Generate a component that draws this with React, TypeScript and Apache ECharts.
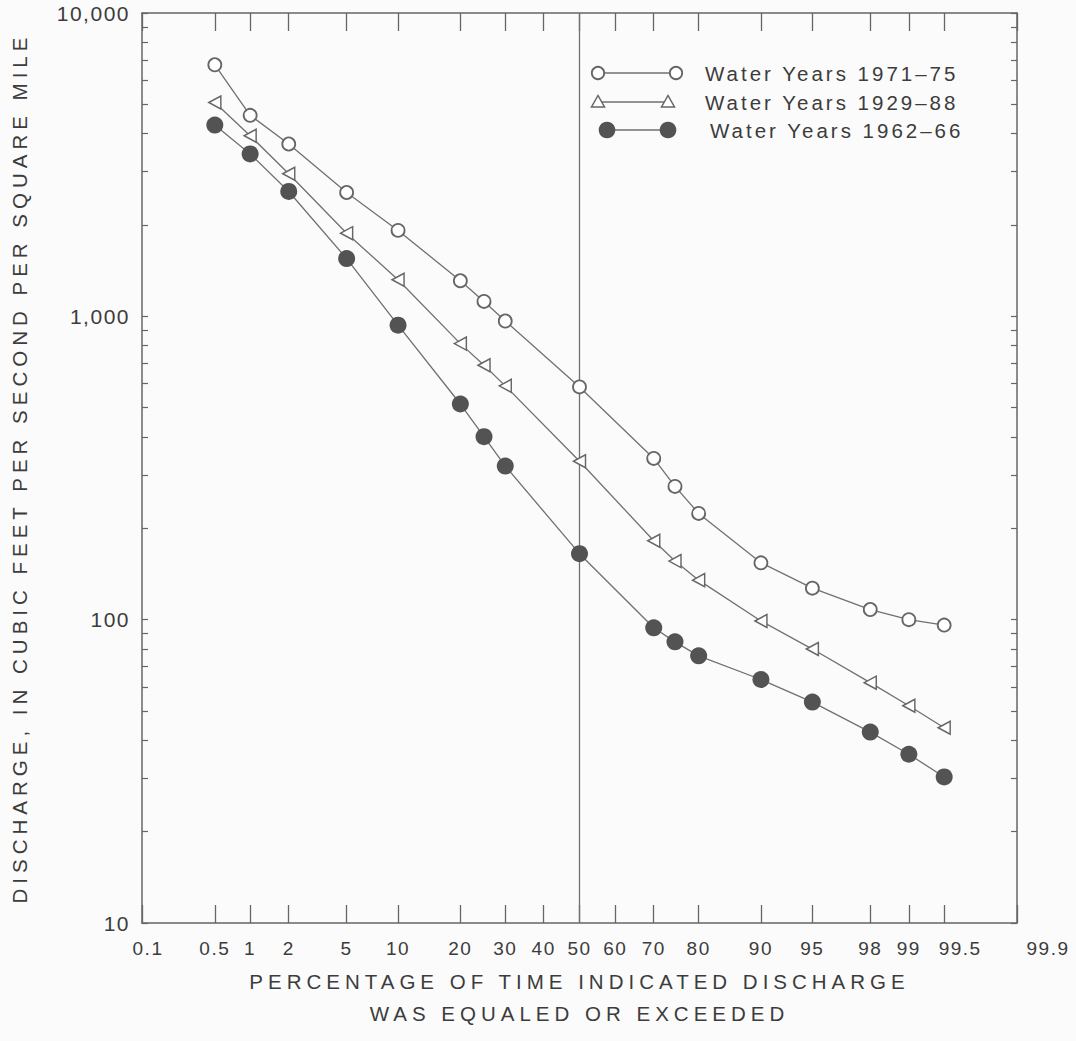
import React, { useEffect, useRef } from "react";
import * as echarts from "echarts";

// ---- Data ----
const PERCENT_EXCEEDED = [0.5, 1, 2, 5, 10, 20, 25, 30, 50, 70, 75, 80, 90, 95, 98, 99, 99.5];
const WY_1971_75 = [6750, 4600, 3700, 2560, 1920, 1310, 1120, 965, 585, 340, 275, 224, 154, 127, 108, 100, 96];
const WY_1929_88 = [5070, 3940, 2950, 1880, 1320, 813, 690, 590, 333, 182, 156, 135, 99, 80, 62, 52, 44];
const WY_1962_66 = [4270, 3430, 2580, 1550, 935, 514, 401, 321, 165, 94, 84.5, 76, 63.5, 53.5, 42.6, 36, 30.3];
const SERIES_NAMES = ["Water Years 1971–75", "Water Years 1929–88", "Water Years 1962–66"];

const X_TICK_PERCENTS = [0.1, 0.5, 1, 2, 5, 10, 20, 30, 40, 50, 60, 70, 80, 90, 95, 98, 99, 99.5, 99.9];
const X_TICK_LABELS = ["0.1", "0.5", "1", "2", "5", "10", "20", "30", "40", "50", "60", "70", "80", "90", "95", "98", "99", "99.5", "99.9"];
const MEDIAN_PERCENT = 50;

const Y_MAJOR = [10, 100, 1000, 10000];
const Y_MAJOR_LABELS = ["10", "100", "1,000", "10,000"];
const Y_TICK_VALUES = [
  10, 20, 30, 40, 50, 60, 70, 80, 90,
  100, 200, 300, 400, 500, 600, 700, 800, 900,
  1000, 2000, 3000, 4000, 5000, 6000, 7000, 8000, 9000,
  10000,
];

const X_TITLE = "PERCENTAGE OF TIME INDICATED DISCHARGE\nWAS EQUALED OR EXCEEDED";
const Y_TITLE = "DISCHARGE, IN CUBIC FEET PER SECOND PER SQUARE MILE";

// ---- Styles ----
const FONT = '"Liberation Sans", Arial, Helvetica, sans-serif';
const TEXT = "#3c3c3c";
const FRAME = "#666666";
const LINE = "#707070";
const DARK = "#535353";
const BG = "#fbfbfb";
// rich-text style key per tick label (small rightward nudges as typeset in the original)
const LABEL_STYLE_KEY: Record<string, string> = { "0.1": "n6", "99.5": "n16", "99.9": "edge" };

// Normal-probability scale: inverse standard normal CDF (Acklam)
function probit(p: number): number {
  const a = [-3.969683028665376e1, 2.209460984245205e2, -2.759285104469687e2, 1.38357751867269e2, -3.066479806614716e1, 2.506628277459239];
  const b = [-5.447609879822406e1, 1.615858368580409e2, -1.556989798598866e2, 6.680131188771972e1, -1.328068155288572e1];
  const c = [-7.784894002430293e-3, -3.223964580411365e-1, -2.400758277161838, -2.549732539343734, 4.374664141464968, 2.938163982698783];
  const d = [7.784695709041462e-3, 3.224671290700398e-1, 2.445134137142996, 3.754408661907416];
  const plow = 0.02425;
  if (p < plow) {
    const q = Math.sqrt(-2 * Math.log(p));
    return (((((c[0] * q + c[1]) * q + c[2]) * q + c[3]) * q + c[4]) * q + c[5]) / ((((d[0] * q + d[1]) * q + d[2]) * q + d[3]) * q + 1);
  }
  if (p <= 1 - plow) {
    const q = p - 0.5;
    const r = q * q;
    return ((((((a[0] * r + a[1]) * r + a[2]) * r + a[3]) * r + a[4]) * r + a[5]) * q) / (((((b[0] * r + b[1]) * r + b[2]) * r + b[3]) * r + b[4]) * r + 1);
  }
  return -probit(1 - p);
}

const X_TICKS_Z = X_TICK_PERCENTS.map((p) => probit(p / 100));
const X_MIN = X_TICKS_Z[0];
const X_MAX = X_TICKS_Z[X_TICKS_Z.length - 1];

function nearestIndex(list: number[], v: number, f: (x: number) => number = (x) => x): number {
  let best = 0;
  let bestD = Infinity;
  list.forEach((z, i) => {
    const dd = Math.abs(f(z) - f(v));
    if (dd < bestD) { bestD = dd; best = i; }
  });
  return best;
}

function xLabel(v: number): string {
  const lab = X_TICK_LABELS[nearestIndex(X_TICKS_Z, v)];
  const key = LABEL_STYLE_KEY[lab] || "n0";
  return `{${key}|${lab}}`;
}

function yLabel(v: number): string {
  return Y_MAJOR_LABELS[nearestIndex(Y_MAJOR, v, Math.log10)];
}

function toPoints(values: number[]) {
  return PERCENT_EXCEEDED.map((p, i) => [probit(p / 100), values[i]]);
}

export default function App() {
  const ref = useRef<HTMLDivElement>(null);

  useEffect(() => {
    const el = ref.current;
    if (!el) return;
    const chart = echarts.init(el, undefined, { renderer: "svg" });

    const yLogTicks = Y_TICK_VALUES.map((v) => Math.log10(v));
    const logMin = Math.log10(Y_MAJOR[0]);
    const logMax = Math.log10(Y_MAJOR[Y_MAJOR.length - 1]);

    const labelFont = { fontSize: 19, lineHeight: 19, color: TEXT, fontFamily: FONT };
    const rich: Record<string, any> = {
      n0: { ...labelFont },
      n6: { ...labelFont, padding: [0, 0, 0, 12] },
      n16: { ...labelFont, padding: [0, 0, 0, 32] },
      edge: { ...labelFont, width: 1, align: "left", padding: [0, 0, 0, 20] },
    };

    const xAxisCommon = {
      type: "value",
      min: X_MIN,
      max: X_MAX,
      splitLine: { show: false },
      axisLine: { show: true, onZero: false, lineStyle: { color: FRAME, width: 1.5 } },
      axisTick: { show: true, inside: true, length: 18, customValues: X_TICKS_Z, lineStyle: { color: FRAME, width: 1.3 } },
    };

    const legendRows = [
      { y: 73, textX: 705, kind: "open" },
      { y: 102, textX: 705, kind: "tri" },
      { y: 130, textX: 710, kind: "filled" },
    ];
    const legendGraphics: any[] = [];
    legendRows.forEach((row, i) => {
      const x1 = row.kind === "filled" ? 607 : 598;
      const x2 = row.kind === "open" ? 676 : 668;
      legendGraphics.push({
        type: "line",
        shape: { x1, y1: row.y, x2, y2: row.y },
        style: { stroke: LINE, lineWidth: 1.3 },
        z: 10,
      });
      [x1, x2].forEach((cx) => {
        if (row.kind === "open") {
          legendGraphics.push({ type: "circle", shape: { cx, cy: row.y, r: 6.2 }, style: { fill: "#ffffff", stroke: FRAME, lineWidth: 1.8 }, z: 11 });
        } else if (row.kind === "tri") {
          legendGraphics.push({
            type: "polygon",
            shape: { points: [[cx, row.y - 6.5], [cx - 6.5, row.y + 5], [cx + 6.5, row.y + 5]] },
            style: { fill: "#ffffff", stroke: FRAME, lineWidth: 1.5 },
            z: 11,
          });
        } else {
          legendGraphics.push({ type: "circle", shape: { cx, cy: row.y, r: 8.3 }, style: { fill: DARK }, z: 11 });
        }
      });
      legendGraphics.push({
        type: "text",
        style: { text: SERIES_NAMES[i], x: row.textX, y: row.y, fontSize: 20.5, fontFamily: FONT, fill: TEXT, verticalAlign: "middle", align: "left" },
        z: 11,
      });
    });

    const option: any = {
      animation: false,
      backgroundColor: BG,
      textStyle: { fontFamily: FONT, color: TEXT },
      grid: { left: 142, right: 59, top: 13, bottom: 118, containLabel: false },
      xAxis: [
        {
          ...xAxisCommon,
          position: "bottom",
          axisLabel: {
            show: true,
            customValues: X_TICKS_Z,
            formatter: (v: number) => xLabel(v),
            margin: 16,
            showMinLabel: true,
            showMaxLabel: true,
            hideOverlap: false,
            ...labelFont,
            rich,
          },
          name: X_TITLE,
          nameLocation: "middle",
          nameGap: 42,
          nameTextStyle: { fontSize: 20.5, lineHeight: 32, color: TEXT, fontFamily: FONT },
        },
        {
          ...xAxisCommon,
          position: "top",
          axisLabel: { show: false },
        },
      ],
      yAxis: [
        {
          type: "log",
          logBase: 10,
          min: Y_MAJOR[0],
          max: Y_MAJOR[Y_MAJOR.length - 1],
          position: "left",
          splitLine: { show: false },
          minorTick: { show: false },
          axisLine: { show: true, onZero: false, lineStyle: { color: FRAME, width: 1.5 } },
          axisTick: { show: false },
          axisLabel: { formatter: (v: number) => yLabel(v), margin: 12, fontSize: 21, color: TEXT, fontFamily: FONT, showMinLabel: true, showMaxLabel: true },
          name: Y_TITLE,
          nameLocation: "middle",
          nameGap: 112,
          nameTextStyle: { fontSize: 20.5, color: TEXT, fontFamily: FONT },
        },
        {
          type: "value",
          min: logMin,
          max: logMax,
          position: "left",
          splitLine: { show: false },
          axisLine: { show: false, onZero: false },
          axisTick: { show: true, inside: true, length: 6, customValues: yLogTicks, lineStyle: { color: FRAME, width: 1.2 } },
          axisLabel: { show: false },
        },
        {
          type: "value",
          min: logMin,
          max: logMax,
          position: "right",
          splitLine: { show: false },
          axisLine: { show: true, onZero: false, lineStyle: { color: FRAME, width: 1.5 } },
          axisTick: { show: true, inside: true, length: 6, customValues: yLogTicks, lineStyle: { color: FRAME, width: 1.2 } },
          axisLabel: { show: false },
        },
      ],
      graphic: legendGraphics,
      series: [
        {
          name: SERIES_NAMES[0],
          type: "line",
          xAxisIndex: 0,
          yAxisIndex: 0,
          data: toPoints(WY_1971_75),
          symbol: "circle",
          symbolSize: 13,
          showAllSymbol: true,
          lineStyle: { color: LINE, width: 1.3 },
          itemStyle: { color: "#ffffff", borderColor: FRAME, borderWidth: 1.8 },
          z: 3,
          markLine: {
            silent: true,
            symbol: ["none", "none"],
            label: { show: false },
            lineStyle: { color: LINE, width: 1.3, type: "solid" },
            data: [{ xAxis: probit(MEDIAN_PERCENT / 100) }],
            z: 1,
          },
        },
        {
          name: SERIES_NAMES[1],
          type: "line",
          xAxisIndex: 0,
          yAxisIndex: 0,
          data: toPoints(WY_1929_88),
          symbol: "triangle",
          symbolSize: [13, 12],
          symbolRotate: 90,
          showAllSymbol: true,
          lineStyle: { color: LINE, width: 1.3 },
          itemStyle: { color: "#ffffff", borderColor: FRAME, borderWidth: 1.5 },
          z: 3,
        },
        {
          name: SERIES_NAMES[2],
          type: "line",
          xAxisIndex: 0,
          yAxisIndex: 0,
          data: toPoints(WY_1962_66),
          symbol: "circle",
          symbolSize: 17,
          showAllSymbol: true,
          lineStyle: { color: LINE, width: 1.3 },
          itemStyle: { color: DARK },
          z: 3,
        },
      ],
    };

    chart.setOption(option);

    // Typeset tracking like the original figure (wide letter spacing)
    const applySpacing = () => {
      el.querySelectorAll("text").forEach((t) => {
        const s = (t.textContent || "").trim();
        let ls = 1.5;
        if (/^(PERCENTAGE|WAS|DISCHARGE)/.test(s)) ls = 5;
        else if (s.startsWith("Water")) ls = 3;
        (t as SVGTextElement).style.letterSpacing = ls + "px";
      });
    };
    applySpacing();
    chart.on("finished", applySpacing);

    return () => {
      chart.dispose();
    };
  }, []);

  return (
    <div
      ref={ref}
      style={{ position: "absolute", left: 0, top: 0, width: 1076, height: 1041, background: BG }}
    />
  );
}
